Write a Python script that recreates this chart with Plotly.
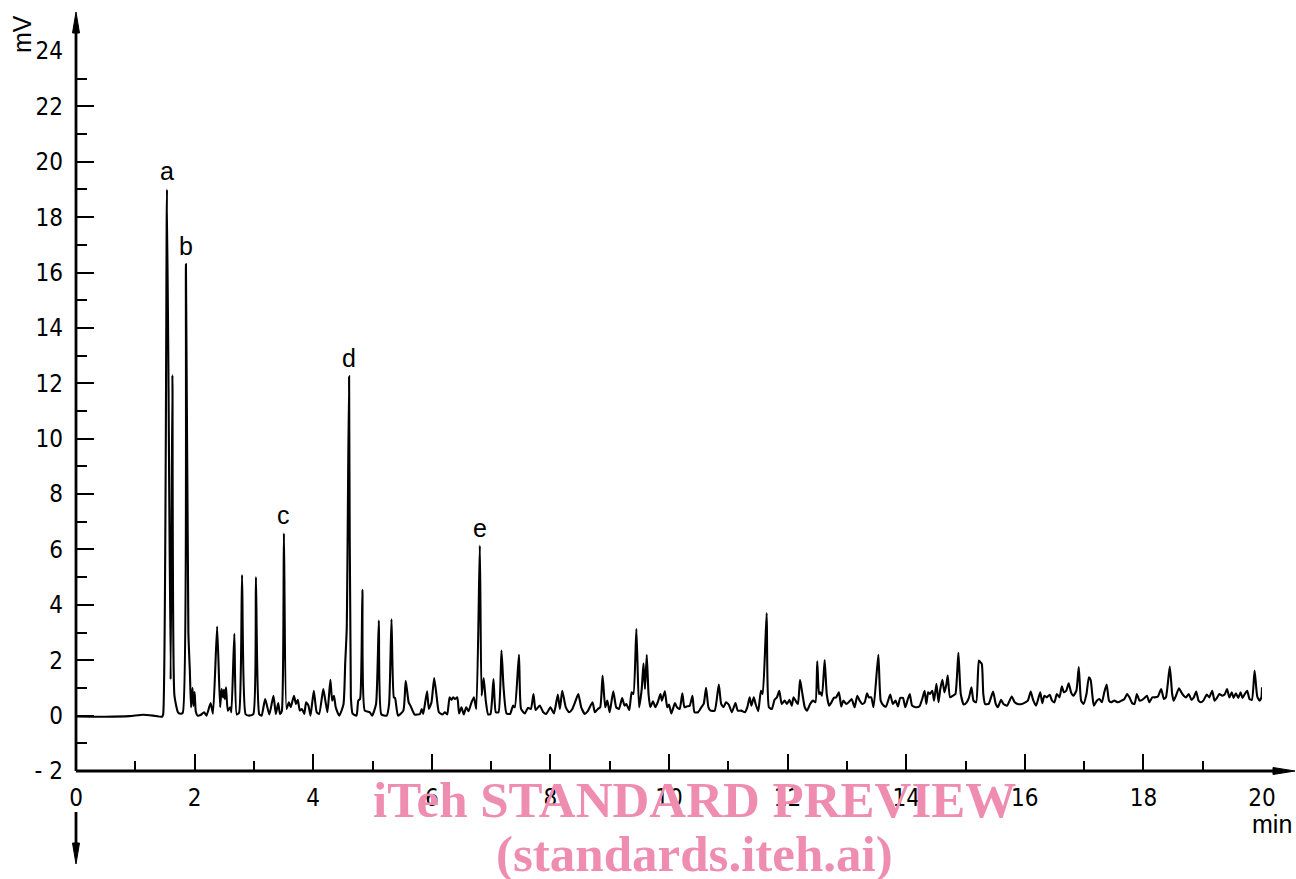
import plotly.graph_objects as go

# ---------------- data ----------------
# retention time (min) / detector signal (mV), split in segments
time_0_2 = [0.0, 0.5, 0.9, 1.13, 1.3, 1.45, 1.47, 1.534, 1.596, 1.626, 1.66, 1.72, 1.76, 1.80,
            1.854, 1.895, 1.92, 1.94, 1.965, 1.98, 2.00, 2.02]
mv_0_2 = [-0.03, -0.04, -0.02, 0.03, 0.0, -0.04, 0.05, 19.0, 1.3, 12.3, 0.72, 0.12, 0.07, 0.1,
          16.3, 3.0, 1.6, 0.3, 1.0, 0.35, 0.85, 0.15]

time_2_4 = [2.05, 2.10, 2.16, 2.20, 2.27, 2.31, 2.38, 2.43, 2.455, 2.48, 2.495, 2.51, 2.53, 2.56, 2.60,
            2.62, 2.67, 2.71, 2.75, 2.80, 2.86, 2.92, 2.99, 3.034, 3.09, 3.13, 3.19, 3.26, 3.33, 3.37,
            3.41, 3.44, 3.47, 3.506, 3.55, 3.59, 3.62, 3.675, 3.71, 3.74, 3.775, 3.81, 3.85, 3.88, 3.92,
            3.955]
mv_2_4 = [0.0, 0.02, 0.12, 0.0, 0.45, 0.07, 3.22, 0.3, 0.96, 0.66, 0.93, 0.6, 1.02, 0.18, 0.3,
          0.12, 2.95, 0.04, 0.1, 5.08, 0.05, 0.0, 0.05, 5.0, 0.05, 0.0, 0.6, 0.04, 0.72, 0.06,
          0.45, 0.06, 0.15, 6.58, 0.24, 0.48, 0.3, 0.72, 0.42, 0.57, 0.18, 0.24, 0.06, 0.48, 0.36,
          0.0]

time_4_6 = [4.01, 4.06, 4.10, 4.17, 4.205, 4.24, 4.29, 4.32, 4.35, 4.38, 4.44, 4.51, 4.54, 4.565, 4.605,
            4.635, 4.665, 4.73, 4.76, 4.79, 4.83, 4.87, 4.955, 4.995, 5.06, 5.107, 5.15, 5.24, 5.28, 5.32,
            5.36, 5.38, 5.43, 5.52, 5.56, 5.61, 5.64, 5.71, 5.80, 5.83, 5.855, 5.92, 5.95, 5.995]
mv_4_6 = [0.9, 0.12, 0.06, 0.96, 0.54, 0.12, 1.29, 0.54, 0.72, 0.3, 0.0, 0.4, 1.9, 3.1, 12.25,
          0.66, 0.07, 0.0, 0.54, 0.6, 4.54, 0.18, 0.12, 0.0, 0.42, 3.43, 0.04, 0.0, 0.42, 3.48,
          0.66, 0.64, 0.0, 0.18, 1.26, 0.48, 0.36, 0.04, 0.06, 0.24, 0.06, 0.88, 0.24, 0.48]

time_6_8 = [6.04, 6.08, 6.12, 6.18, 6.22, 6.26, 6.30, 6.33, 6.36, 6.39, 6.43, 6.46, 6.50, 6.54, 6.58,
            6.62, 6.67, 6.71, 6.75, 6.81, 6.84, 6.875, 6.91, 6.95, 6.99, 7.04, 7.08, 7.125, 7.175, 7.21,
            7.26, 7.32, 7.37, 7.40, 7.47, 7.505, 7.57, 7.62, 7.67, 7.715, 7.75, 7.82, 7.88, 7.93]
mv_6_8 = [1.36, 0.72, 0.12, 0.04, 0.12, 0.04, 0.66, 0.57, 0.66, 0.6, 0.66, 0.08, 0.3, 0.04, 0.3,
          0.16, 0.48, 0.66, 0.24, 6.14, 0.72, 1.36, 0.54, 0.04, 0.06, 1.32, 0.12, 0.12, 2.35, 1.02,
          0.08, 0.06, 0.36, 0.3, 2.2, 0.24, 0.08, 0.28, 0.24, 0.78, 0.2, 0.36, 0.12, 0.06]

time_8_10 = [8.00, 8.06, 8.125, 8.16, 8.20, 8.26, 8.315, 8.37, 8.415, 8.47, 8.52, 8.58, 8.63, 8.71, 8.75,
             8.80, 8.84, 8.88, 8.925, 8.96, 9.00, 9.06, 9.11, 9.155, 9.21, 9.25, 9.28, 9.33, 9.37, 9.40,
             9.45, 9.495, 9.54, 9.57, 9.595, 9.625, 9.655, 9.685, 9.73, 9.77, 9.81, 9.855, 9.88, 9.93, 9.97]
mv_8_10 = [0.3, 0.08, 0.76, 0.24, 0.9, 0.3, 0.12, 0.24, 0.48, 0.78, 0.3, 0.06, 0.16, 0.48, 0.12,
           0.24, 0.3, 1.45, 0.3, 0.54, 0.12, 0.88, 0.3, 0.24, 0.63, 0.36, 0.42, 0.2, 0.84, 0.78,
           3.13, 0.3, 0.96, 1.89, 0.96, 2.19, 0.78, 0.3, 0.52, 0.3, 0.48, 0.78, 0.54, 0.88, 0.3]

time_10_12 = [10.0, 10.04, 10.10, 10.135, 10.18, 10.225, 10.26, 10.30, 10.35, 10.395, 10.43, 10.49, 10.545,
              10.585, 10.625, 10.665, 10.70, 10.77, 10.84, 10.88, 10.92, 10.96, 11.01, 11.06, 11.12, 11.16,
              11.22, 11.28, 11.32, 11.36, 11.39, 11.43, 11.46, 11.505, 11.55, 11.58, 11.647, 11.685, 11.735,
              11.78, 11.82, 11.86, 11.90, 11.95, 11.99]
mv_10_12 = [0.4, 0.08, 0.45, 0.3, 0.24, 0.81, 0.3, 0.33, 0.36, 0.72, 0.12, 0.12, 0.3,
            0.42, 1.0, 0.3, 0.18, 0.18, 1.12, 0.42, 0.3, 0.48, 0.39, 0.12, 0.45, 0.18,
            0.18, 0.12, 0.3, 0.66, 0.36, 0.66, 0.42, 0.16, 0.9, 0.78, 3.70, 0.3, 0.24,
            0.57, 0.66, 0.9, 0.42, 0.54, 0.42]

time_12_14 = [12.03, 12.07, 12.10, 12.15, 12.175, 12.21, 12.25, 12.29, 12.33, 12.38, 12.43, 12.47, 12.50,
              12.53, 12.55, 12.58, 12.625, 12.66, 12.70, 12.74, 12.78, 12.82, 12.865, 12.905, 12.94, 12.99,
              13.03, 13.08, 13.13, 13.175, 13.215, 13.26, 13.30, 13.34, 13.37, 13.41, 13.45, 13.53, 13.57,
              13.62, 13.66, 13.73, 13.775, 13.82, 13.86, 13.90, 13.945, 13.985]
mv_12_14 = [0.57, 0.36, 0.66, 0.48, 0.42, 1.29, 0.78, 0.3, 0.18, 0.42, 0.54, 0.48, 1.96,
            0.78, 0.84, 0.72, 2.01, 0.78, 0.36, 0.48, 0.64, 0.66, 0.84, 0.33, 0.54, 0.42,
            0.48, 0.6, 0.3, 0.72, 0.54, 0.42, 0.48, 0.81, 0.66, 0.66, 0.3, 2.2, 0.54,
            0.36, 0.33, 0.76, 0.42, 0.54, 0.33, 0.64, 0.64, 0.3]

time_14_16 = [14.02, 14.06, 14.10, 14.17, 14.225, 14.27, 14.31, 14.34, 14.37, 14.40, 14.44, 14.47, 14.51,
              14.545, 14.575, 14.61, 14.645, 14.68, 14.70, 14.74, 14.79, 14.83, 14.88, 14.92, 14.97, 15.02,
              15.06, 15.10, 15.135, 15.18, 15.225, 15.25, 15.275, 15.30, 15.33, 15.39, 15.465, 15.51, 15.545,
              15.60, 15.64, 15.70, 15.78, 15.83, 15.88, 15.95]
mv_14_16 = [0.54, 0.78, 0.36, 0.3, 0.34, 0.6, 0.9, 0.42, 0.84, 0.78, 0.9, 0.54, 1.15,
            0.48, 0.96, 1.29, 0.84, 1.15, 1.45, 0.66, 0.72, 0.78, 2.27, 0.78, 0.4, 0.48,
            0.66, 1.02, 0.54, 0.48, 1.99, 1.93, 1.87, 0.78, 0.42, 0.42, 0.87, 0.42, 0.3,
            0.57, 0.42, 0.36, 0.69, 0.48, 0.42, 0.42]

time_16_18 = [16.05, 16.10, 16.14, 16.19, 16.26, 16.295, 16.33, 16.37, 16.42, 16.46, 16.50, 16.54, 16.585,
              16.625, 16.66, 16.70, 16.74, 16.78, 16.82, 16.87, 16.91, 16.95, 16.99, 17.04, 17.08, 17.11,
              17.14, 17.165, 17.215, 17.26, 17.30, 17.34, 17.38, 17.42, 17.455, 17.51, 17.57, 17.63, 17.68,
              17.725, 17.765, 17.81, 17.85, 17.89, 17.935, 17.98]
mv_16_18 = [0.54, 0.87, 0.57, 0.36, 0.84, 0.45, 0.72, 0.66, 0.75, 0.54, 0.48, 0.78, 0.66,
            1.06, 0.84, 0.9, 1.17, 0.84, 0.72, 0.9, 1.75, 0.54, 0.42, 0.78, 1.38, 1.29,
            0.72, 0.36, 0.54, 0.6, 0.48, 0.84, 1.12, 0.54, 0.48, 0.54, 0.48, 0.54, 0.6,
            0.78, 0.66, 0.45, 0.42, 0.78, 0.54, 0.57]

time_18_20 = [18.02, 18.06, 18.10, 18.15, 18.19, 18.245, 18.30, 18.345, 18.38, 18.445, 18.485, 18.51, 18.55,
              18.60, 18.64, 18.68, 18.72, 18.765, 18.81, 18.85, 18.89, 18.93, 18.97, 19.01, 19.07, 19.11,
              19.16, 19.20, 19.24, 19.28, 19.33, 19.37, 19.41, 19.45, 19.49, 19.52, 19.56, 19.60, 19.64,
              19.67, 19.71, 19.75, 19.79, 19.83, 19.875, 19.92, 19.96, 19.99, 20.0]
mv_18_20 = [0.64, 0.72, 0.48, 0.66, 0.66, 0.69, 0.96, 0.6, 0.66, 1.77, 0.78, 0.54, 0.72,
            0.99, 0.84, 0.72, 0.66, 0.78, 0.57, 0.66, 0.87, 0.54, 0.48, 0.54, 0.76, 0.66,
            0.9, 0.54, 0.64, 0.78, 0.72, 0.76, 0.96, 0.66, 0.84, 0.64, 0.81, 0.64, 0.84,
            0.64, 0.78, 0.9, 0.6, 0.57, 1.63, 0.69, 0.54, 0.66, 1.02]

# labelled peaks
peak_labels = ["a", "b", "c", "d", "e"]
peak_times = [1.534, 1.854, 3.506, 4.605, 6.81]

# axis ticks
x_major = [0, 2, 4, 6, 8, 10, 12, 14, 16, 18, 20]
x_minor = [1, 3, 5, 7, 9, 11, 13, 15, 17, 19]
y_major = [-2, 0, 2, 4, 6, 8, 10, 12, 14, 16, 18, 20, 22, 24]
y_major_text = ["- 2", "0", "2", "4", "6", "8", "10", "12", "14", "16", "18", "20", "22", "24"]
y_minor = [-1, 1, 3, 5, 7, 9, 11, 13, 15, 17, 19, 21, 23]

# ---------------- assemble ----------------
segments_t = [time_0_2, time_2_4, time_4_6, time_6_8, time_8_10, time_10_12,
              time_12_14, time_14_16, time_16_18, time_18_20]
segments_v = [mv_0_2, mv_2_4, mv_4_6, mv_6_8, mv_8_10, mv_10_12,
              mv_12_14, mv_14_16, mv_16_18, mv_18_20]
time_min, signal_mv = [], []
for ts, vs in zip(segments_t, segments_v):
    assert len(ts) == len(vs), (len(ts), len(vs))
    time_min += ts
    signal_mv += vs

# the page body margin is removed (see post_script), so window px == figure px
W, H = 1296, 879
ML, MT = 76, 51
MR = W - 1262
MB = H - 771
PW = W - ML - MR
PH = H - MT - MB


def pxx(xs):  # window pixel x -> paper
    return (xs - ML) / PW


def pyy(ys):  # window pixel y -> paper
    return (H - MB - ys) / PH


TICKFONT = dict(family="Liberation Sans Narrow, DejaVu Sans Condensed, Arial Narrow, sans-serif",
                size=24, color="black")
TEXTFONT = dict(family="Liberation Sans, Arial, sans-serif", size=25, color="black")

fig = go.Figure()
fig.add_trace(go.Scatter(x=time_min, y=signal_mv, mode="lines",
                         line=dict(color="black", width=2.1, shape="spline", smoothing=0.5),
                         hoverinfo="skip", showlegend=False))

# peak labels
for lab, tp in zip(peak_labels, peak_times):
    i = min(range(len(time_min)), key=lambda k: abs(time_min[k] - tp))
    fig.add_annotation(x=time_min[i], y=signal_mv[i], text=lab, showarrow=False,
                       xanchor="center", yanchor="bottom", yshift=2,
                       font=dict(TEXTFONT, size=25))

# axis lines with arrows (paper coordinates)
AX = dict(color="black", width=2.8)
shapes = [
    dict(type="line", xref="paper", yref="paper", x0=pxx(76), x1=pxx(76), y0=pyy(771), y1=pyy(30), line=AX),
    dict(type="line", xref="paper", yref="paper", x0=pxx(76), x1=pxx(76), y0=pyy(812), y1=pyy(846), line=AX),
    dict(type="line", xref="paper", yref="paper", x0=pxx(76), x1=pxx(1276), y0=pyy(771), y1=pyy(771), line=AX),
]


def tri(p):
    d = "M " + " L ".join(f"{pxx(a):.5f},{pyy(b):.5f}" for a, b in p) + " Z"
    return dict(type="path", xref="paper", yref="paper", path=d,
                fillcolor="black", line=dict(color="black", width=1))


shapes.append(tri([(76, 12), (72.5, 33), (79.5, 33)]))
shapes.append(tri([(76, 864), (72.5, 843), (79.5, 843)]))
shapes.append(tri([(1295, 771), (1273, 767.5), (1273, 774.5)]))

fig.update_layout(
    width=W, height=H,
    margin=dict(l=ML, r=MR, t=MT, b=MB, pad=0, autoexpand=False),
    paper_bgcolor="white", plot_bgcolor="white",
    shapes=shapes,
    showlegend=False,
    xaxis=dict(range=[0, 20], showgrid=False, zeroline=False, showline=False, automargin=False,
               tickmode="array", tickvals=x_major, ticktext=[str(v) for v in x_major],
               ticks="inside", ticklen=17, tickwidth=1.6, tickcolor="black",
               tickfont=TICKFONT, ticklabelstandoff=10,
               minor=dict(tickmode="array", tickvals=x_minor, ticks="inside", ticklen=10,
                          tickwidth=1.6, tickcolor="black", showgrid=False)),
    yaxis=dict(range=[-2, 24], showgrid=False, zeroline=False, showline=False, automargin=False,
               tickmode="array", tickvals=y_major, ticktext=y_major_text,
               ticks="inside", ticklen=18, tickwidth=1.6, tickcolor="black",
               tickfont=TICKFONT, ticklabelstandoff=12,
               minor=dict(tickmode="array", tickvals=y_minor, ticks="inside", ticklen=11,
                          tickwidth=1.6, tickcolor="black", showgrid=False)),
)

fig.add_annotation(xref="paper", yref="paper", x=pxx(22), y=pyy(34), text="mV", textangle=-90,
                   showarrow=False, xanchor="center", yanchor="middle", font=TEXTFONT)
fig.add_annotation(xref="paper", yref="paper", x=pxx(1272), y=pyy(824), text="min",
                   showarrow=False, xanchor="center", yanchor="middle", font=TEXTFONT)

WM = dict(family="Liberation Serif, Times New Roman, serif", size=51, color="#EE8DB0")
fig.add_annotation(xref="paper", yref="paper", x=pxx(695), y=pyy(800), text="<b>iTeh STANDARD PREVIEW</b>",
                   showarrow=False, xanchor="center", yanchor="middle", font=WM)
fig.add_annotation(xref="paper", yref="paper", x=pxx(695), y=pyy(854), text="<b>(standards.iteh.ai)</b>",
                   showarrow=False, xanchor="center", yanchor="middle", font=WM)

fig.write_html("out.html", config={"displayModeBar": False},
               post_script="document.body.style.margin='0';document.body.style.overflow='hidden';")
